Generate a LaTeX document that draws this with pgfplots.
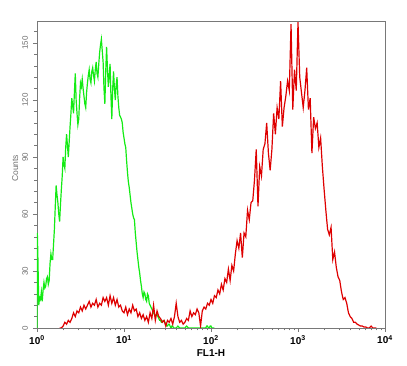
\documentclass[border=0pt]{standalone}
\usepackage{fontspec}
\setmainfont{Liberation Sans}
\usepackage{pgfplots}
\pgfplotsset{compat=1.18}
\definecolor{fgreen}{RGB}{20,235,20}
\definecolor{fred}{RGB}{222,0,0}
\definecolor{axgray}{RGB}{120,120,120}
\definecolor{lblgray}{RGB}{110,110,110}
\begin{document}
\begin{tikzpicture}
\useasboundingbox (-37pt,-38pt) rectangle (370pt,328pt);
\begin{axis}[
  at={(0,0)}, anchor=south west,
  scale only axis, width=348pt, height=307pt,
  xmin=0, xmax=4, ymin=0, ymax=161.6,
  /pgf/number format/assume math mode=true,
  xtick={0,1,2,3,4},
  xticklabels={\textbf{10\textsuperscript{0}},\textbf{10\textsuperscript{1}},\textbf{10\textsuperscript{2}},\textbf{10\textsuperscript{3}},\textbf{10\textsuperscript{4}}},
  minor xtick={0.301,0.477,0.602,0.699,0.778,0.845,0.903,0.954,
               1.301,1.477,1.602,1.699,1.778,1.845,1.903,1.954,
               2.301,2.477,2.602,2.699,2.778,2.845,2.903,2.954,
               3.301,3.477,3.602,3.699,3.778,3.845,3.903,3.954},
  ytick={0,30,60,90,120,150},
  minor ytick={6,12,18,24,36,42,48,54,66,72,78,84,96,102,108,114,126,132,138,144,156},
  tick align=outside, xtick pos=bottom, ytick pos=left,
  major tick length=4pt, minor tick length=2.5pt,
  tick style={axgray, line width=0.6pt},
  axis line style={axgray, line width=0.8pt},
  xticklabel style={font=\fontsize{10}{11}\selectfont, text=black},
  yticklabel style={font=\fontsize{8}{9}\selectfont, text=lblgray, rotate=90, anchor=south, yshift=1.5pt},
  xlabel={\textbf{FL1-H}},
  ylabel={Counts},
  every axis x label/.style={at={(axis description cs:0.5,0)}, anchor=center, yshift=-25pt, font=\fontsize{10}{11}\selectfont},
  every axis y label/.style={at={(axis description cs:-0.063,0.52)}, anchor=center, rotate=90, font=\fontsize{8.5}{9}\selectfont, text=lblgray},
  clip=true,
]
\addplot[fgreen, line width=1.2pt, sharp plot] coordinates {
(0,0) (0.004,50) (0.01,38) (0.02,12) (0.03,16) (0.04,15) (0.05,19) (0.06,14) (0.07,20) (0.08,24)
(0.09,21) (0.10,22) (0.11,26) (0.12,27) (0.13,23) (0.14,25) (0.15,34) (0.16,39) (0.17,36) (0.18,36)
(0.19,44) (0.20,52) (0.21,64) (0.22,75) (0.23,70) (0.24,66) (0.25,60) (0.26,56) (0.27,65) (0.28,73)
(0.29,80) (0.30,90) (0.31,86) (0.32,84) (0.33,95) (0.34,102) (0.35,96) (0.36,90) (0.37,98) (0.38,106)
(0.39,113) (0.40,121) (0.41,117) (0.42,113) (0.43,124) (0.44,134) (0.45,120) (0.46,113) (0.47,107) (0.48,110)
(0.49,121) (0.50,129) (0.51,127) (0.52,131) (0.53,126) (0.54,122) (0.55,118) (0.56,116) (0.57,124) (0.58,129)
(0.59,133) (0.60,136) (0.61,131) (0.62,129) (0.63,135) (0.64,137) (0.65,133) (0.66,130) (0.67,136) (0.68,140)
(0.69,134) (0.70,132) (0.71,139) (0.72,145) (0.73,149) (0.74,152) (0.75,146) (0.76,140) (0.77,126) (0.78,118)
(0.79,135) (0.80,148) (0.81,136) (0.82,127) (0.83,133) (0.84,139) (0.85,122) (0.86,110) (0.87,126) (0.88,135)
(0.89,126) (0.90,120) (0.91,128) (0.92,132) (0.93,122) (0.94,116) (0.95,112) (0.96,111) (0.97,110) (0.98,108)
(0.99,103) (1.00,100) (1.01,97) (1.02,95) (1.03,88) (1.04,82) (1.05,77) (1.06,74) (1.07,70) (1.08,66)
(1.09,63) (1.10,60) (1.11,58) (1.12,57) (1.13,50) (1.14,45) (1.15,40) (1.16,36) (1.17,32) (1.18,29)
(1.19,25) (1.20,22) (1.21,18) (1.22,16) (1.23,19) (1.24,18) (1.25,15) (1.26,14) (1.27,18) (1.28,17)
(1.29,13) (1.30,12) (1.31,11) (1.32,10) (1.33,9) (1.34,8) (1.35,7) (1.36,6) (1.37,7) (1.38,7)
(1.39,6) (1.40,5) (1.41,4) (1.42,4) (1.43,3) (1.44,3) (1.45,4) (1.46,4) (1.47,3) (1.48,2)
(1.49,1) (1.50,1) (1.51,2) (1.52,2) (1.53,1) (1.54,0) (1.55,1) (1.56,1) (1.57,0) (1.58,0)
(1.60,0) (1.62,1) (1.64,0) (1.70,0) (1.72,1) (1.74,0) (1.80,0) (1.94,0) (1.95,1) (1.96,1) (1.97,0) (1.98,0)
(1.99,1) (2.00,1) (2.01,0) (2.04,0)
};
\addplot[fred, line width=1.2pt, sharp plot] coordinates {
(0.26,0) (0.28,0) (0.30,1) (0.32,3) (0.34,2) (0.36,4) (0.38,3) (0.40,5) (0.42,8) (0.44,6)
(0.46,9) (0.48,8) (0.50,11) (0.52,9) (0.54,12) (0.56,10) (0.58,12) (0.60,14) (0.62,11) (0.64,13)
(0.66,12) (0.68,15) (0.70,11) (0.72,13) (0.74,12) (0.76,16) (0.78,14) (0.80,16) (0.82,12) (0.84,17)
(0.86,13) (0.88,16) (0.90,12) (0.92,15) (0.94,11) (0.96,12) (0.98,9) (1.00,8) (1.02,11) (1.04,7)
(1.06,10) (1.08,8) (1.10,12) (1.12,9) (1.14,10) (1.16,6) (1.18,8) (1.20,5) (1.22,7) (1.24,4)
(1.26,6) (1.28,3) (1.30,8) (1.32,5) (1.34,12) (1.36,4) (1.38,9) (1.40,6) (1.42,5) (1.44,3)
(1.46,4) (1.48,1) (1.50,4) (1.52,3) (1.54,5) (1.56,2) (1.58,6) (1.60,13) (1.62,6) (1.64,3)
(1.66,4) (1.68,2) (1.70,3) (1.72,5) (1.74,4) (1.76,9) (1.78,6) (1.80,8) (1.82,7) (1.84,10)
(1.86,8) (1.88,1) (1.90,9) (1.92,11) (1.94,10) (1.96,13) (1.98,12) (2.00,15) (2.02,13) (2.04,17)
(2.06,16) (2.08,20) (2.10,18) (2.12,23) (2.14,20) (2.16,26) (2.18,24) (2.20,31) (2.22,25) (2.24,33)
(2.26,30) (2.28,39) (2.30,46) (2.32,42) (2.34,50) (2.36,37) (2.38,50) (2.40,48) (2.42,62) (2.44,57)
(2.46,66) (2.48,67) (2.50,78) (2.52,94) (2.54,64) (2.56,85) (2.58,80) (2.60,94) (2.62,97) (2.64,108)
(2.66,92) (2.68,83) (2.70,94) (2.72,113) (2.74,102) (2.76,116) (2.78,110) (2.80,130) (2.82,106) (2.84,116)
(2.86,122) (2.88,130) (2.90,125) (2.92,160) (2.94,115) (2.96,136) (2.98,125) (3.00,161) (3.02,132) (3.04,124)
(3.06,116) (3.08,125) (3.10,137) (3.12,115) (3.14,121) (3.16,92) (3.18,111) (3.20,105) (3.22,108) (3.24,95)
(3.26,100) (3.28,85) (3.30,73) (3.32,62) (3.34,52) (3.36,49) (3.38,53) (3.40,36) (3.42,40) (3.44,32)
(3.46,27) (3.48,25) (3.50,19) (3.52,15) (3.54,16) (3.56,13) (3.58,8) (3.60,6) (3.62,5) (3.64,3)
(3.66,3) (3.68,2) (3.70,1.5) (3.72,1) (3.74,1) (3.76,0.5) (3.78,0.5) (3.80,0) (3.82,0) (3.84,1)
(3.86,0) (3.90,0)
};
\end{axis}
\end{tikzpicture}
\end{document}
